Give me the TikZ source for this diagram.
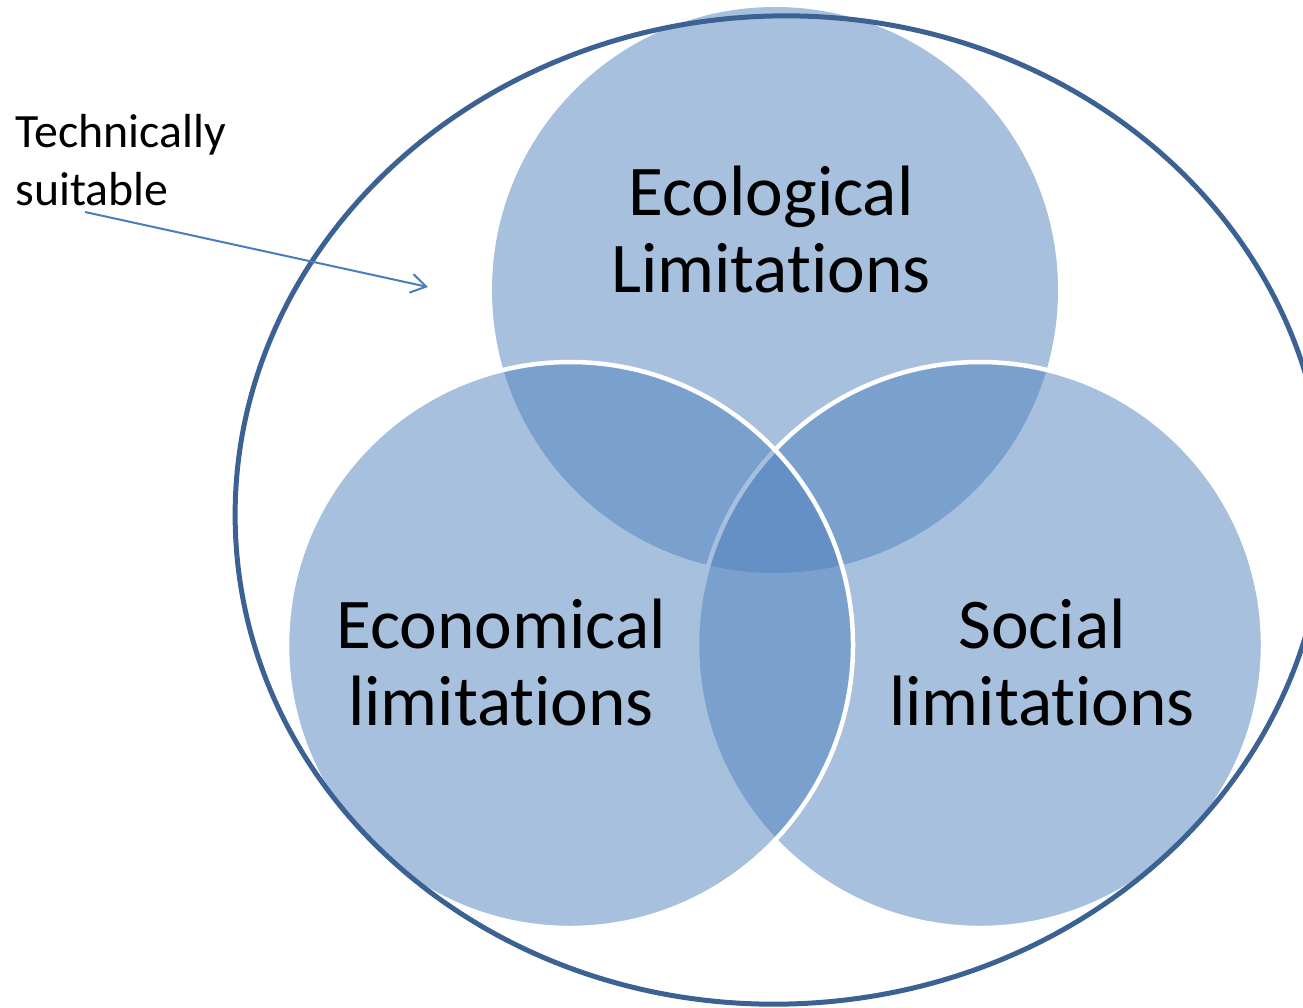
\documentclass[tikz,border=0pt]{standalone}
\usepackage{fontspec}
\setmainfont{Carlito}[Ligatures={NoCommon}, RawFeature=-liga, RawFeature=-clig, RawFeature=-calt]
\usetikzlibrary{arrows.meta,shapes.geometric}
\definecolor{vennblue}{RGB}{79,129,189}
\definecolor{outerline}{RGB}{60,98,148}
\definecolor{arrowblue}{RGB}{74,126,187}
\begin{document}
\begin{tikzpicture}[
  venn/.style={circle, minimum size=5.66cm, inner sep=0pt, fill=vennblue, fill opacity=0.5},
  vennline/.style={draw=white, draw opacity=1, line width=0.45mm},
  biglabel/.style={align=center, font=\fontsize{20.3}{21.9}\selectfont, inner sep=0pt, text=black},
  smalllabel/.style={align=left, font=\fontsize{13.6}{16.5}\selectfont, inner sep=0pt, text=black},
  outerring/.style={ellipse, draw=outerline, line width=0.5mm, minimum width=10.90cm, minimum height=9.88cm, inner sep=0pt},
  pointer/.style={draw=arrowblue, line width=0.2mm, -{Straight Barb[length=4.3pt,width=5.4pt]}}
]
\useasboundingbox (0,0) rectangle (13.03,-10.07);
% circles
\node[venn] (eco) at (7.75,-2.90) {};
\node[venn, vennline] (soc) at (9.80,-6.45) {};
\node[venn, vennline] (econ) at (5.70,-6.45) {};
% labels
\node[biglabel] (ecolab) at (7.71,-2.29) {Ecological\\Limitations};
\node[biglabel] (econlab) at (5.01,-6.62) {Economical\\limitations};
\node[biglabel] (soclab) at (10.42,-6.62) {Social\\limitations};
% outer ellipse
\node[outerring, rotate=3] (outer) at (7.80,-5.10) {};
% annotation
\node[smalllabel, anchor=west] (tech) at (0.15,-1.60) {Technically\\suitable};
\coordinate (tailpt) at (0.85,-2.12);
\coordinate (tippt) at (4.28,-2.87);
\draw[pointer] (tailpt) -- (tippt);
\end{tikzpicture}
\end{document}
